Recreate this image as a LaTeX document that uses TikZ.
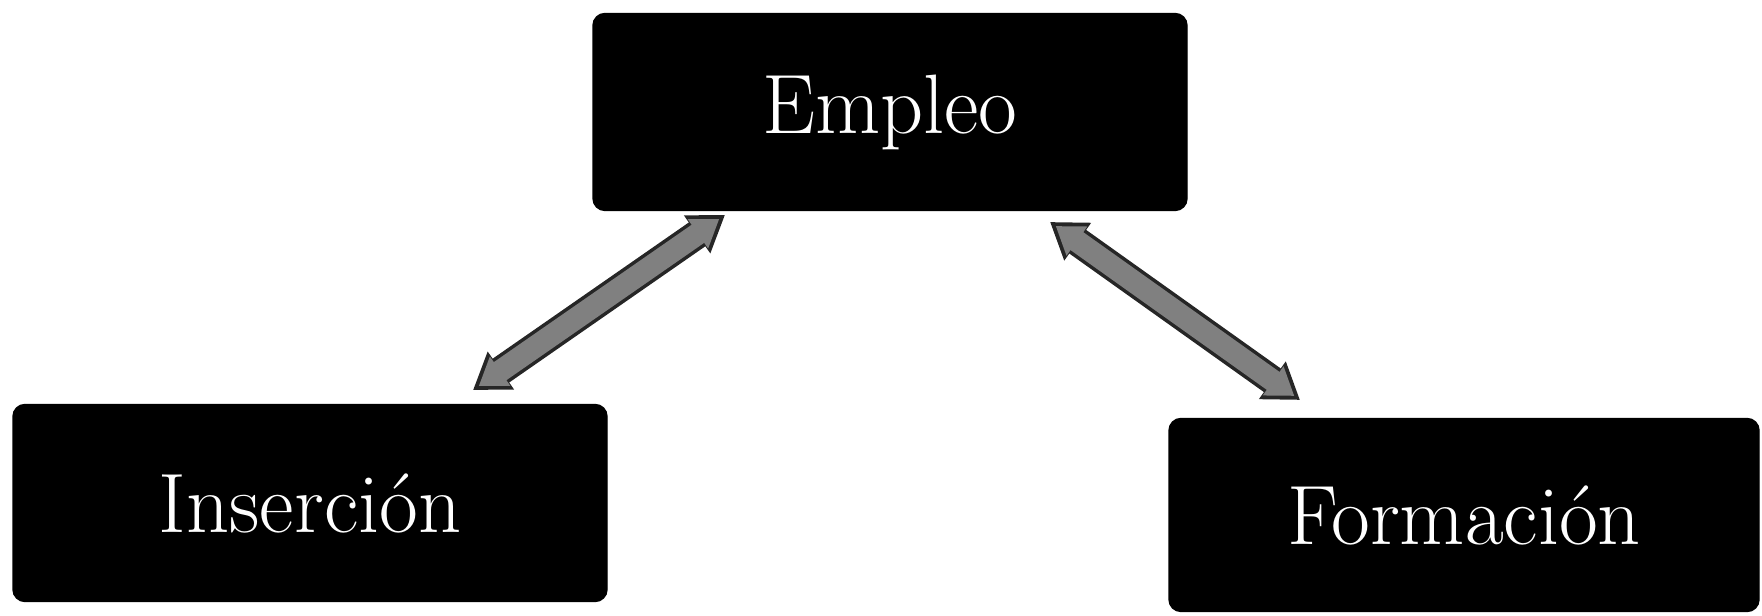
\documentclass[tikz,border=0pt]{standalone}
\usepackage{fontspec}
\usetikzlibrary{positioning, arrows.meta}

\begin{document}
\begin{tikzpicture}[
  box/.style={rectangle, draw=black, fill=black, rounded corners=1.2mm,
              minimum width=5.94cm, minimum height=1.97cm,
              text=white, font=\fontsize{24}{28}\selectfont,
              inner sep=4pt},
  arrout/.style={{Triangle[length=3.4mm, width=4.4mm]}-{Triangle[length=3.4mm, width=4.4mm]},
                 line width=2.9mm, black!85},
  arrin/.style={{Triangle[length=2.6mm, width=3.4mm]}-{Triangle[length=2.6mm, width=3.4mm]},
                line width=2.2mm, black!50, shorten <=0.7mm, shorten >=0.7mm}
]
  \useasboundingbox (0,0) rectangle (17.62,6.16);

  \node[box]                                  (emp)  at (8.90,5.04)  {Empleo};
  \node[box]                                  (ins)  at (3.10,1.13)  {Inserción};
  \node[box, minimum width=5.90cm, minimum height=1.93cm] (form) at (14.64,1.01) {Formación};

  % free ends of the two arrows
  \coordinate (insend)  at (4.73,2.26);
  \coordinate (empleft) at (7.25,4.01);
  \coordinate (empright) at (10.50,3.94);
  \coordinate (formend) at (13.00,2.16);

  \draw[arrout] (insend) -- (empleft);
  \draw[arrin]  (insend) -- (empleft);
  \draw[arrout] (empright) -- (formend);
  \draw[arrin]  (empright) -- (formend);
\end{tikzpicture}
\end{document}
